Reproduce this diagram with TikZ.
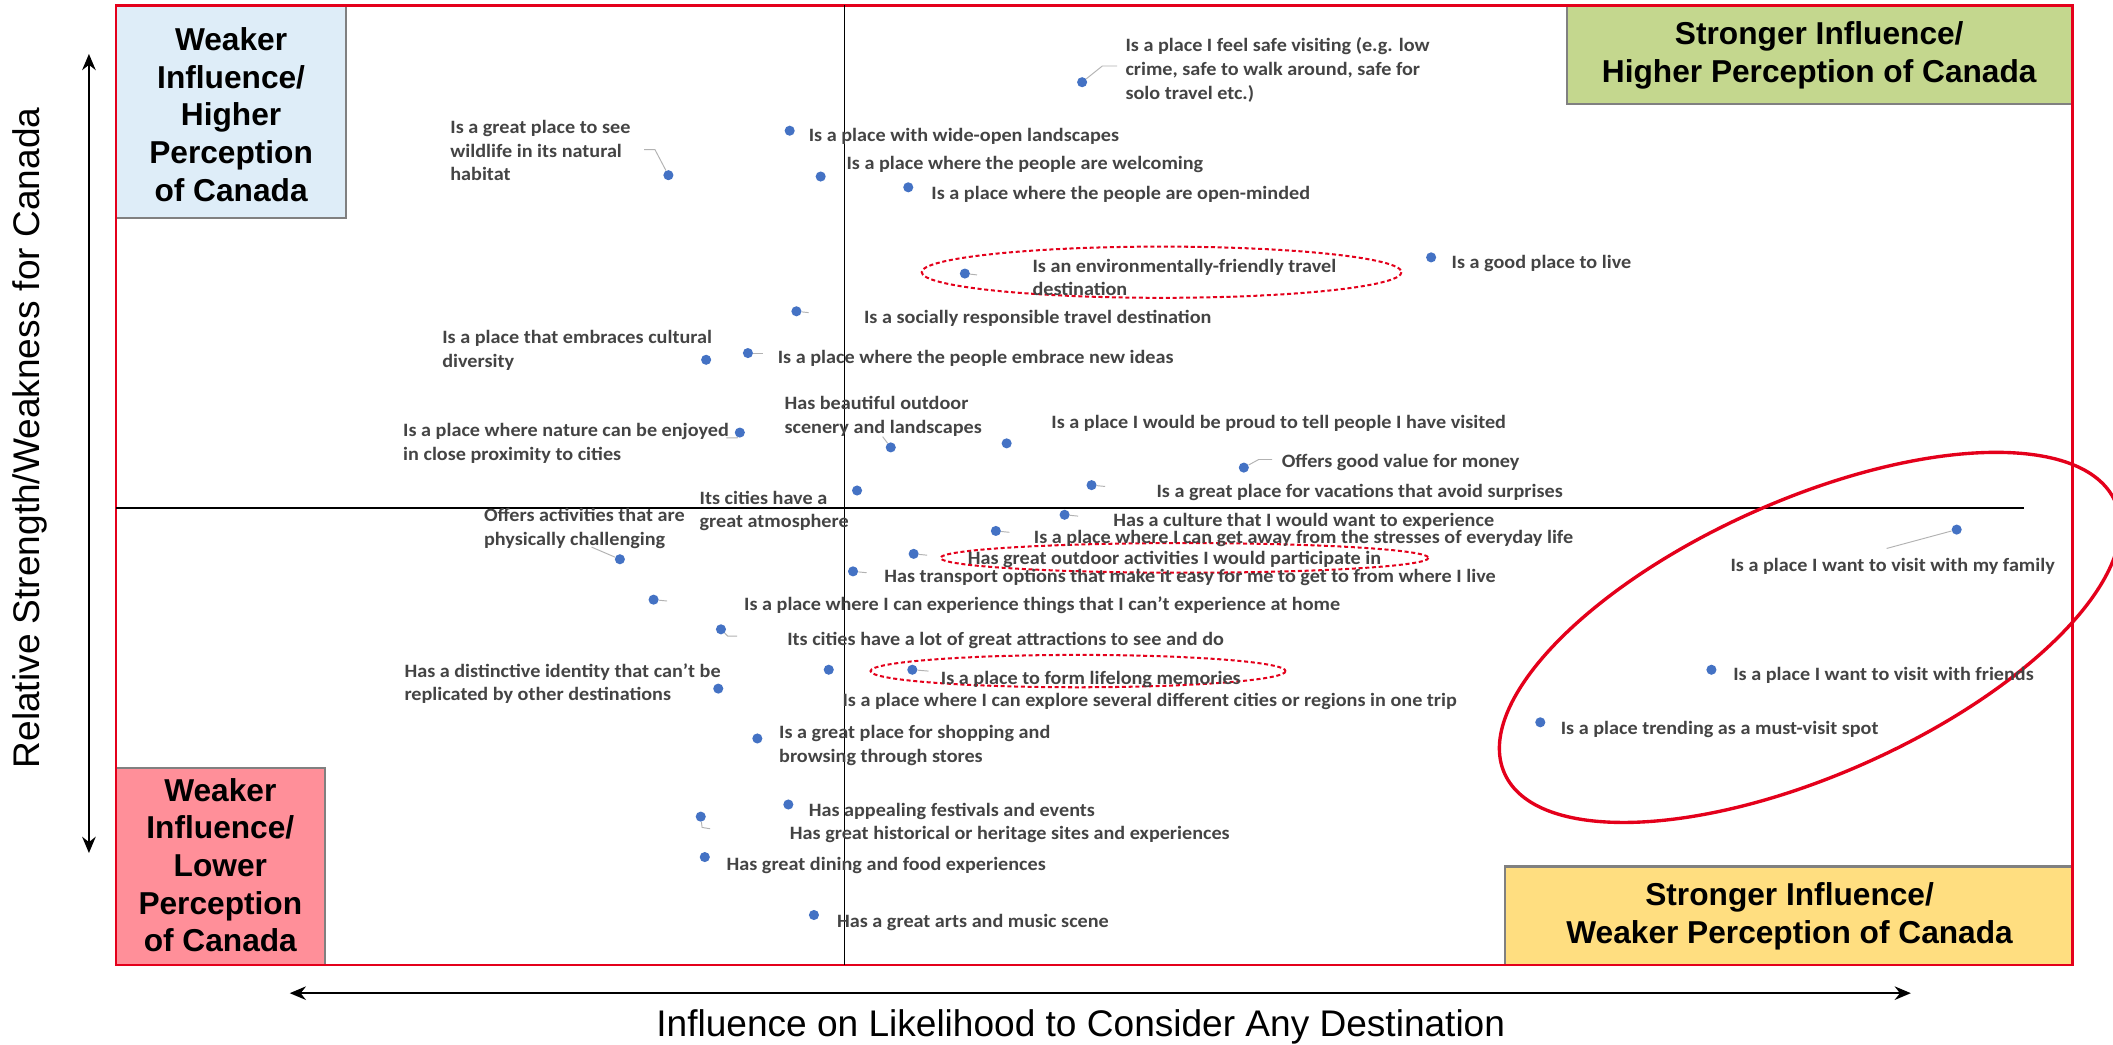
\documentclass[tikz,border=0pt]{standalone}
\usepackage{fontspec}
\setmainfont{Liberation Sans}
\newfontfamily\lblfont{Carlito}[FakeStretch=1.07]
\usetikzlibrary{arrows.meta}
\definecolor{dotblue}{RGB}{68,114,196}
\definecolor{lblgray}{RGB}{68,68,68}
\definecolor{framered}{RGB}{228,0,27}
\definecolor{qblue}{RGB}{222,237,248}
\definecolor{qgreen}{RGB}{196,215,142}
\definecolor{qpink}{RGB}{255,143,153}
\definecolor{qyellow}{RGB}{255,222,128}
\begin{document}
\begin{tikzpicture}[x=1pt,y=-1pt,
  dot/.style={circle,fill=dotblue,inner sep=0,minimum size=7.5pt},
  lbl/.style={anchor=north west,inner sep=0,yshift=-3pt,font=\lblfont\bfseries\fontsize{14}{17.5}\selectfont,text=lblgray,align=left},
  leader/.style={draw=gray!60,line width=0.7pt},
  quadbox/.style={draw=gray,line width=1.5pt},
  qtext/.style={font=\bfseries\fontsize{23.5}{28}\selectfont,align=center,inner sep=0},
  axarrow/.style={line width=1.8pt,{Stealth[length=12pt,width=10pt]}-{Stealth[length=12pt,width=10pt]}},
  dashring/.style={draw=framered,line width=1.5pt,dash pattern=on 3pt off 2pt},
]
\useasboundingbox (0,0) rectangle (1568,775);
\fill[white] (0,0) rectangle (1568,775);

% quadrant boxes
\filldraw[quadbox,fill=qblue] (86,4) rectangle (257,162);
\filldraw[quadbox,fill=qgreen] (1163,4) rectangle (1538,77);
\filldraw[quadbox,fill=qpink] (86,570) rectangle (241,716);
\filldraw[quadbox,fill=qyellow] (1117,643) rectangle (1538,716);
\node[qtext] (qtl) at (171.5,85) {Weaker\\Influence/\\Higher\\Perception\\of Canada};
\node[qtext] (qtr) at (1350,41) {Stronger Influence/\\Higher Perception of Canada};
\node[qtext] (qbl) at (163.5,642) {Weaker\\Influence/\\Lower\\Perception\\of Canada};
\node[qtext] (qbr) at (1328,680) {Stronger Influence/\\Weaker Perception of Canada};

% frame
\draw[framered,line width=2pt] (86,4) rectangle (1538,716);

% axes inside
\draw[line width=0.8pt] (627,4) -- (627,716);
\draw[line width=0.8pt] (86,377) -- (1502,377);

% outer arrows
\coordinate (vtop) at (66,40);
\coordinate (vbot) at (66,633);
\coordinate (hleft) at (215,737);
\coordinate (hright) at (1418,737);
\draw[axarrow] (vtop) -- (vbot);
\draw[axarrow] (hleft) -- (hright);
\node[rotate=90,font=\fontsize{27.5}{32}\selectfont,inner sep=0] (ylab) at (22,325) {Relative Strength/Weakness for Canada};
\node[font=\fontsize{27.5}{32}\selectfont,inner sep=0] (xlab) at (802,762) {Influence on Likelihood to Consider Any Destination};

% ellipses
\draw[dashring] (862,202) ellipse [x radius=178, y radius=19];
\draw[dashring] (879,414) ellipse [x radius=181, y radius=11];
\draw[dashring] (800,498) ellipse [x radius=154, y radius=12];
\draw[framered,line width=2.5pt,rotate around={24:(1343,473)}] (1343,473) ellipse [x radius=248, y radius=102];

% dots
\foreach \n/\x/\y in {1/803/61,2/586/97,3/496/130,4/609/131,5/674/139,6/716/203,7/1062/191,8/591/231,9/524/267,10/555/262,11/549/321,12/661/332,13/747/329,14/923/347,15/810/360,16/636/364,17/790/382,18/739/394,19/460/415,20/678/411,21/633/424,22/485/445,23/535/467,24/677/497,25/615/497,26/533/511,27/562/548,28/585/597,29/520/606,30/523/636,31/604/679,32/1452/393,33/1270/497,34/1143/536}
  \node[dot] (d\n) at (\x,\y) {};

% labels
\node[lbl] (l1) at (835,25) {Is a place I feel safe visiting (e.g. low\\crime, safe to walk around, safe for\\solo travel etc.)};
\node[lbl] (l2) at (600,92) {Is a place with wide-open landscapes};
\node[lbl] (l3) at (334,86) {Is a great place to see\\wildlife in its natural\\habitat};
\node[lbl] (l4) at (628,113) {Is a place where the people are welcoming};
\node[lbl] (l5) at (691,135) {Is a place where the people are open-minded};
\node[lbl] (l6) at (766,189) {Is an environmentally-friendly travel\\destination};
\node[lbl] (l7) at (1077,186) {Is a good place to live};
\node[lbl] (l8) at (641,227) {Is a socially responsible travel destination};
\node[lbl] (l9) at (328,242) {Is a place that embraces cultural\\diversity};
\node[lbl] (l10) at (577,257) {Is a place where the people embrace new ideas};
\node[lbl] (l11) at (299,311) {Is a place where nature can be enjoyed\\in close proximity to cities};
\node[lbl] (l12) at (582,291) {Has beautiful outdoor\\scenery and landscapes};
\node[lbl] (l13) at (780,305) {Is a place I would be proud to tell people I have visited};
\node[lbl] (l14) at (951,334) {Offers good value for money};
\node[lbl] (l15) at (858,356) {Is a great place for vacations that avoid surprises};
\node[lbl] (l16) at (519,361) {Its cities have a\\great atmosphere};
\node[lbl] (l17) at (826,378) {Has a culture that I would want to experience};
\node[lbl] (l18) at (767,390) {Is a place where I can get away from the stresses of everyday life};
\node[lbl] (l19) at (359,374) {Offers activities that are\\physically challenging};
\node[lbl] (l20) at (718,406) {Has great outdoor activities I would participate in};
\node[lbl] (l21) at (656,419) {Has transport options that make it easy for me to get to from where I live};
\node[lbl] (l22) at (552,440) {Is a place where I can experience things that I can’t experience at home};
\node[lbl] (l23) at (584,466) {Its cities have a lot of great attractions to see and do};
\node[lbl] (l24) at (698,495) {Is a place to form lifelong memories};
\node[lbl] (l25) at (625,511) {Is a place where I can explore several different cities or regions in one trip};
\node[lbl] (l26) at (300,489) {Has a distinctive identity that can’t be\\replicated by other destinations};
\node[lbl] (l27) at (578,535) {Is a great place for shopping and\\browsing through stores};
\node[lbl] (l28) at (600,593) {Has appealing festivals and events};
\node[lbl] (l29) at (586,610) {Has great historical or heritage sites and experiences};
\node[lbl] (l30) at (539,633) {Has great dining and food experiences};
\node[lbl] (l31) at (621,675) {Has a great arts and music scene};
\node[lbl] (l32) at (1284,411) {Is a place I want to visit with my family};
\node[lbl] (l33) at (1286,492) {Is a place I want to visit with friends};
\node[lbl] (l34) at (1158,532) {Is a place trending as a must-visit spot};

% leaders
\draw[leader] (d1) -- ++(15,-12) -- ++(11,0);
\draw[leader] (d3) -- ++(-10,-19) -- ++(-8,0);
\draw[leader] (d6) -- ++(9,1);
\draw[leader] (d8) -- ++(9,1);
\draw[leader] (d10) -- ++(11,0);
\draw[leader] (d11) -- ++(-2,4) -- ++(-8,0);
\draw[leader] (d12) -- ++(-6,-8);
\draw[leader] (d14) -- ++(11,-6) -- ++(10,0);
\draw[leader] (d15) -- ++(10,1);
\draw[leader] (d17) -- ++(10,1);
\draw[leader] (d18) -- ++(10,1);
\draw[leader] (d19) -- ++(-21,-9);
\draw[leader] (d20) -- ++(10,1);
\draw[leader] (d21) -- ++(10,1);
\draw[leader] (d22) -- ++(10,1);
\draw[leader] (d23) -- ++(5,5) -- ++(7,0);
\draw[leader] (d24) -- ++(12,1);
\draw[leader] (d29) -- ++(1,8) -- ++(6,1);
\draw[leader] (d32) -- ++(-52,14);
\end{tikzpicture}
\end{document}
